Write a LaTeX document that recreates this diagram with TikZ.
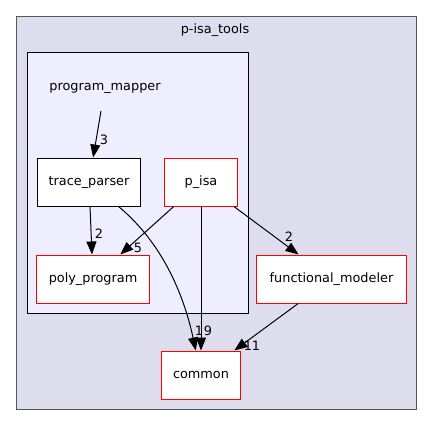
\documentclass[tikz,border=0pt]{standalone}
\usepackage{fontspec}
\setmainfont{DejaVu Sans}
\usetikzlibrary{arrows.meta}
\definecolor{outerfill}{HTML}{DDDDEE}
\definecolor{innerfill}{HTML}{EEEEFF}
\definecolor{outerline}{HTML}{555555}
\definecolor{dirline}{HTML}{FF0000}

\begin{document}
\begin{tikzpicture}[x=1bp, y=-1bp,
    every node/.style={font=\fontsize{12.9}{15}\selectfont, inner sep=0pt},
    dirbox/.style={rectangle, draw=dirline, fill=white, line width=1bp,
                   minimum height=48bp, text height=9.5bp, text depth=3bp},
    pmbox/.style={dirbox, draw=black},
    lab/.style={font=\fontsize{12.9}{15}\selectfont, text=black},
    arr/.style={-{Triangle[length=13bp, width=10bp]}, line width=1bp, color=black},
]
\useasboundingbox (0,0) rectangle (432,425);

% clusters
\draw[outerline, fill=outerfill, line width=1bp] (16,16) rectangle (416,409);
\node[lab] (toptitle) at (215,30) {p-isa\_tools};
\draw[black, fill=innerfill, line width=1bp] (27,52) rectangle (248,313);
\node[lab] (pmtitle) at (105,88) {program\_mapper};
\coordinate (pm) at (101,111);

% directories
\node[pmbox, minimum width=102bp] (trace) at (89,182) {trace\_parser};
\node[dirbox, minimum width=72bp] (pisa) at (201,182) {p\_isa};
\node[dirbox, minimum width=112bp] (poly) at (93,279) {poly\_program};
\node[dirbox, minimum width=149bp] (func) at (331.5,279) {functional\_modeler};
\node[dirbox, minimum width=79bp] (common) at (201,375) {common};

% dependencies
\draw[arr] (pm) -- (trace);
\draw[arr] (trace) -- (poly);
\draw[arr] (pisa) -- (poly);
\draw[arr] (trace) .. controls (165,245) and (185,300) .. (common);
\draw[arr] (pisa) -- (common);
\draw[arr] (pisa) -- (func);
\draw[arr] (func) -- (common);

\node[lab] (n3) at (104,140) {3};
\node[lab] (n2a) at (99,234) {2};
\node[lab] (n5) at (138,248) {5};
\node[lab] (n1) at (199,331) {1};
\node[lab] (n9) at (208,331) {9};
\node[lab] (n2b) at (289,237) {2};
\node[lab] (n11) at (252,346) {11};
\end{tikzpicture}
\end{document}
